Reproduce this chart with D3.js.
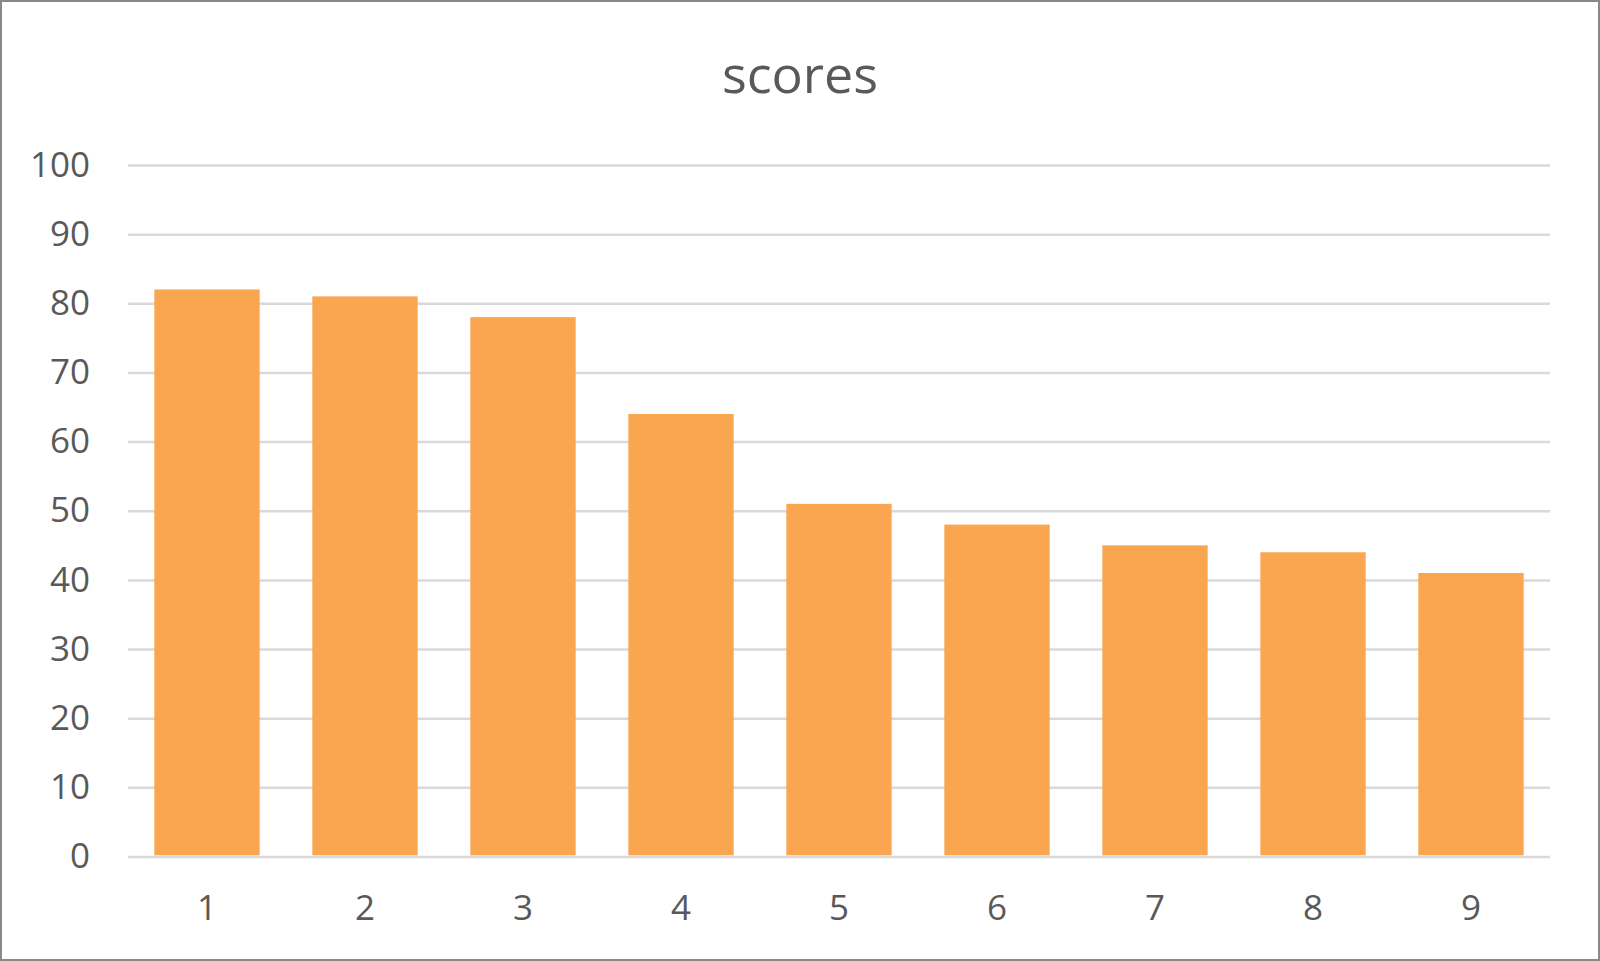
<!DOCTYPE html>
<html>
<head>
<meta charset="utf-8">
<script src="https://cdn.jsdelivr.net/npm/d3@7"></script>
<style>
	html, body { margin: 0; padding: 0; background: #fff; }
	svg { display: block; }
</style>
</head>
<body>
<div id="chart"></div>
<script>
//--------------------------------------------------
// dati
//--------------------------------------------------
var categories = ["1", "2", "3", "4", "5", "6", "7", "8", "9"]
var scores = [82, 81, 78, 64, 51, 48, 45, 44, 41]
var yTicks = [0, 10, 20, 30, 40, 50, 60, 70, 80, 90, 100]
var title = "scores"

//--------------------------------------------------
// dimensioni
//--------------------------------------------------
var W = 1600, H = 961
var margin = {top: 165, right: 50, bottom: 104.5, left: 128}
var width = W - margin.left - margin.right,
	height = H - margin.top - margin.bottom

var textColor = "#595959",
	gridColor = "#d9d9d9",
	barColor = "#faa651"

var svg = d3.select("#chart").append("svg")
	.attr("width", W)
	.attr("height", H)

// cornice esterna
svg.append("rect")
	.attr("x", 1)
	.attr("y", 1)
	.attr("width", W - 2)
	.attr("height", H - 2)
	.attr("fill", "#fff")
	.attr("stroke", "#898989")
	.attr("stroke-width", 2)

svg.append("text")
	.attr("x", 800)
	.attr("y", 93)
	.attr("text-anchor", "middle")
	.style("font-family", "'Open Sans', sans-serif")
	.style("font-size", "52px")
	.style("fill", textColor)
	.text(title)

var g = svg.append("g")
	.attr("transform", "translate(" + margin.left + "," + margin.top + ")")

var x = d3.scaleBand()
	.domain(categories)
	.range([0, width])
	.paddingInner(1 / 3)
	.paddingOuter(1 / 6)

var y = d3.scaleLinear()
	.domain([0, 100])
	.range([height, 0])

// griglia orizzontale
var yAxis = d3.axisLeft(y)
	.tickValues(yTicks)
	.tickSize(-width)
	.tickPadding(38)

g.append("g")
	.attr("class", "y axis")
	.call(yAxis)
	.call(function(a) {
		a.select(".domain").remove()
		a.selectAll("line")
			.attr("stroke", gridColor)
			.attr("stroke-width", 2.5)
		a.selectAll("text")
			.style("font-family", "'Open Sans', sans-serif")
			.style("font-size", "35px")
			.style("fill", textColor)
	})

// barre
g.append("g")
	.selectAll("rect")
	.data(scores)
	.enter()
	.append("rect")
	.attr("x", function(d, i) { return x(categories[i]) })
	.attr("y", function(d) { return y(d) })
	.attr("width", x.bandwidth())
	.attr("height", function(d) { return height - y(d) - 1.2 })
	.attr("fill", barColor)

// asse x (solo etichette)
var xAxis = d3.axisBottom(x)
	.tickSize(0)
	.tickPadding(39)

g.append("g")
	.attr("class", "x axis")
	.attr("transform", "translate(0," + height + ")")
	.call(xAxis)
	.call(function(a) {
		a.select(".domain").remove()
		a.selectAll("text")
			.style("font-family", "'Open Sans', sans-serif")
			.style("font-size", "35px")
			.style("fill", textColor)
	})
</script>
</body>
</html>
